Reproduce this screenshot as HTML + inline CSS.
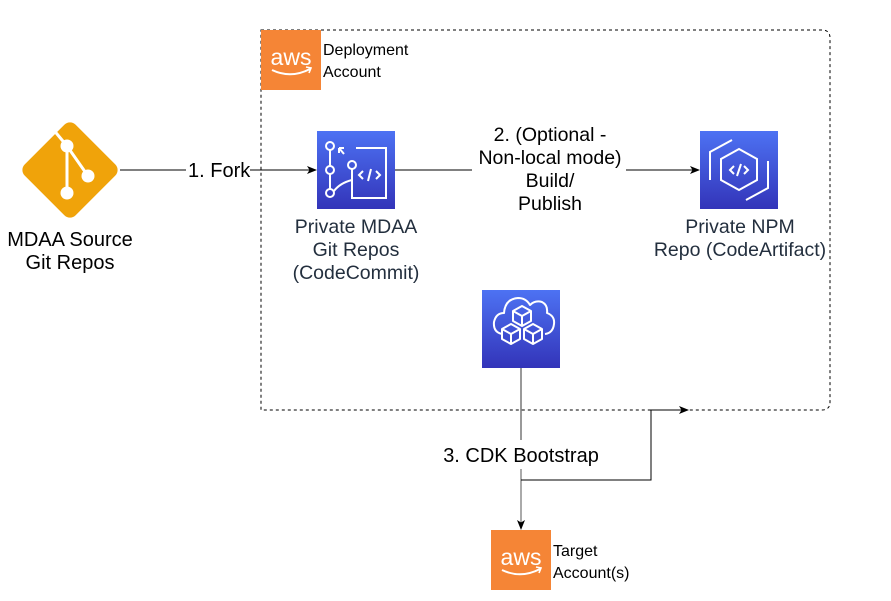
<!DOCTYPE html>
<html><head><meta charset="utf-8"><style>
html,body{margin:0;padding:0;background:#fff;}
svg{display:block;font-family:"Liberation Sans",Arial,sans-serif;}
</style></head><body>
<svg width="891" height="601" viewBox="0 0 891 601" xmlns="http://www.w3.org/2000/svg">
<defs>
<linearGradient id="bl" x1="0" y1="0" x2="0" y2="1"><stop offset="0" stop-color="#4D72F3"/><stop offset="1" stop-color="#3334B9"/></linearGradient>
<marker id="ar" markerWidth="10" markerHeight="8" refX="9" refY="4" orient="auto" markerUnits="userSpaceOnUse"><path d="M0,0 L10,4 L0,8 L2.5,4 Z" fill="#000"/></marker>
</defs>
<path d="M261,30 H822 Q830,30 830,38 V402 Q830,410 822,410 H261 Z" fill="none" stroke="#000" stroke-width="1" stroke-dasharray="3,3"/>
<rect x="261" y="30" width="60" height="60" fill="#F58536"/>
<text x="291" y="65" font-size="23" fill="#fff" text-anchor="middle">aws</text>
<path d="M272,70 Q291,79 310,69" stroke="#fff" stroke-width="2" fill="none"/>
<path d="M306,67 L311,68 L309,73" stroke="#fff" stroke-width="1.6" fill="none"/>
<text x="323" y="55" font-size="16" fill="#000">Deployment</text>
<text x="323" y="77" font-size="16" fill="#000">Account</text>

<rect x="34" y="134" width="72" height="72" rx="8" fill="#F0A30A" transform="rotate(45 70 170)"/>
<g stroke="#fff" stroke-width="3" fill="none">
<path d="M52,128 L67,146"/>
<path d="M67,146 L67,193"/>
<path d="M67,146 L88,176"/>
</g>
<circle cx="67" cy="146" r="6.5" fill="#fff"/>
<circle cx="88" cy="176" r="6.5" fill="#fff"/>
<circle cx="67" cy="193" r="6.5" fill="#fff"/>
<text x="70" y="246" font-size="20" text-anchor="middle" fill="#000">MDAA Source</text>
<text x="70" y="269" font-size="20" text-anchor="middle" fill="#000">Git Repos</text>

<line x1="120" y1="170" x2="186" y2="170" stroke="#000"/>
<text x="188" y="177" font-size="20" fill="#000">1. Fork</text>
<line x1="250" y1="170" x2="316" y2="170" stroke="#000" marker-end="url(#ar)"/>

<rect x="317" y="131" width="78" height="78" fill="url(#bl)"/>
<g stroke="#fff" stroke-width="2" fill="none">
<circle cx="330" cy="146" r="4"/>
<circle cx="330" cy="170" r="4"/>
<circle cx="330" cy="193" r="4"/>
<circle cx="352" cy="165" r="4"/>
<line x1="330" y1="150" x2="330" y2="166"/>
<line x1="330" y1="174" x2="330" y2="189"/>
<path d="M334,191 Q340,183 352,180 L352,169"/>
<path d="M344,154 L339,148 M339,148 L339,153 M339,148 L344,148"/>
<path d="M356,148 L386,148 L386,198 L352,198 L352,180"/>
<path d="M363,171 L359,175 L363,179 M376,171 L380,175 L376,179 M371,169 L368,181"/>
</g>
<text x="356" y="233" font-size="19.5" text-anchor="middle" fill="#232F3E">Private MDAA</text>
<text x="356" y="256" font-size="19.5" text-anchor="middle" fill="#232F3E">Git Repos</text>
<text x="356" y="279" font-size="19.5" text-anchor="middle" fill="#232F3E">(CodeCommit)</text>

<line x1="395" y1="170" x2="472" y2="170" stroke="#000"/>
<text x="550" y="141" font-size="19.5" text-anchor="middle" fill="#000">2. (Optional -</text>
<text x="550" y="164" font-size="19.5" text-anchor="middle" fill="#000">Non-local mode)</text>
<text x="550" y="187" font-size="19.5" text-anchor="middle" fill="#000">Build/</text>
<text x="550" y="210" font-size="19.5" text-anchor="middle" fill="#000">Publish</text>
<line x1="626" y1="170" x2="699" y2="170" stroke="#000" marker-end="url(#ar)"/>

<rect x="700" y="131" width="78" height="78" fill="url(#bl)"/>
<g stroke="#fff" stroke-width="2" fill="none">
<path d="M732,140 L710,152 L710,180"/>
<path d="M746,200 L768,188 L768,161"/>
<path d="M739,149 L757,159 L757,180 L739,190 L721,180 L721,159 Z"/>
<path d="M734,166 L730,170 L734,174 M744,166 L748,170 L744,174 M741,164 L737,176"/>
</g>
<text x="740" y="233" font-size="19.5" text-anchor="middle" fill="#232F3E">Private NPM</text>
<text x="740" y="256" font-size="19.5" text-anchor="middle" fill="#232F3E">Repo (CodeArtifact)</text>

<rect x="482" y="290" width="78" height="78" fill="url(#bl)"/>
<g stroke="#fff" stroke-width="2" fill="none" stroke-linejoin="round">
<path d="M502,334 Q493,332 494,322 Q496,313 504,313 Q505,299 518,298 Q526,298 530,305 Q535,300 542,302 Q548,305 547,313 Q555,316 554,324 Q553,333 545,334"/>
<path d="M513,311 L522,306 L531,311 L531,321 L522,326 L513,321 Z M513,311 L522,316 L531,311 M522,316 L522,326"/>
<path d="M502,329 L511,324 L520,329 L520,339 L511,344 L502,339 Z M502,329 L511,334 L520,329 M511,334 L511,344"/>
<path d="M524,329 L533,324 L542,329 L542,339 L533,344 L524,339 Z M524,329 L533,334 L542,329 M533,334 L533,344"/>
</g>

<line x1="521" y1="368" x2="521" y2="440" stroke="#333"/>
<text x="521" y="462" font-size="20" text-anchor="middle" fill="#000">3. CDK Bootstrap</text>
<line x1="521" y1="469" x2="521" y2="529" stroke="#555" marker-end="url(#ar)"/>
<path d="M521,480 H651 V410 H688" fill="none" stroke="#000" marker-end="url(#ar)"/>

<rect x="491" y="530" width="60" height="60" fill="#F58536"/>
<text x="521" y="565" font-size="23" fill="#fff" text-anchor="middle">aws</text>
<path d="M502,570 Q521,579 540,569" stroke="#fff" stroke-width="2" fill="none"/>
<path d="M536,567 L541,568 L539,573" stroke="#fff" stroke-width="1.6" fill="none"/>
<text x="553" y="556" font-size="16" fill="#000">Target</text>
<text x="553" y="578" font-size="16" fill="#000">Account(s)</text>
</svg>
</body></html>
